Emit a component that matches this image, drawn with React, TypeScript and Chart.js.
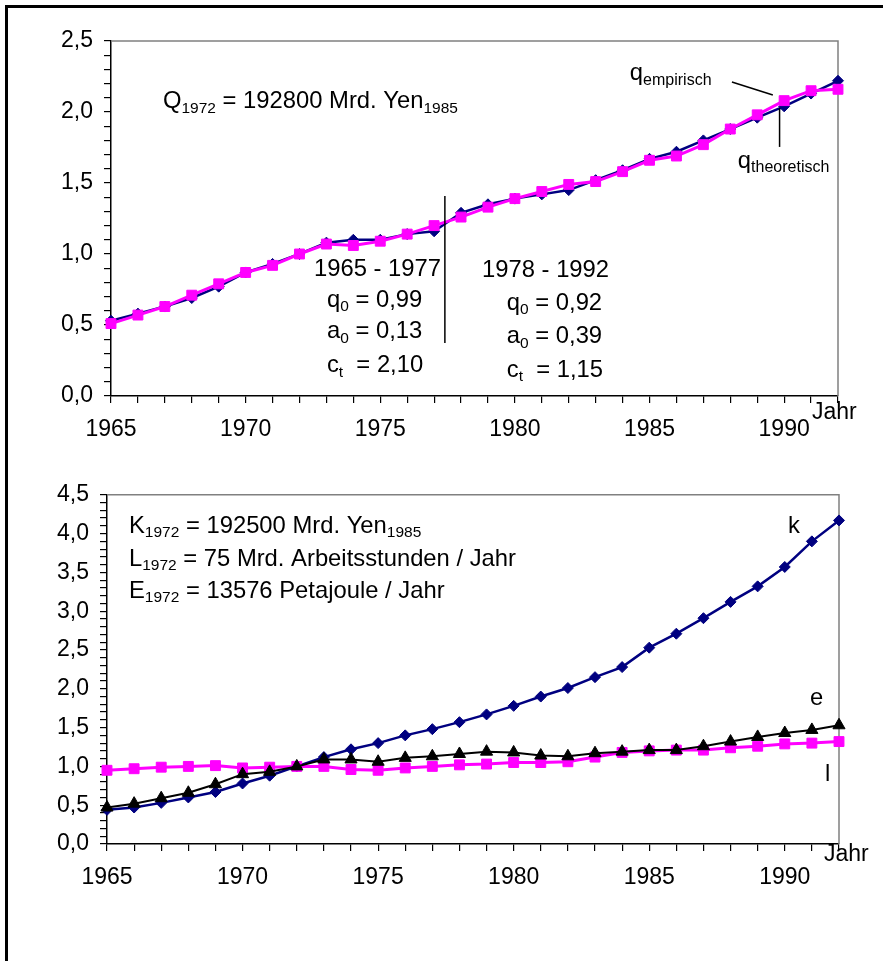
import React, { useEffect, useRef } from 'react';
import { Chart, registerables } from 'chart.js';

Chart.register(...registerables);

const FONT = '"Liberation Sans", Arial, sans-serif';

// ---------- data ----------
const years = [1965, 1966, 1967, 1968, 1969, 1970, 1971, 1972, 1973, 1974, 1975, 1976, 1977, 1978,
  1979, 1980, 1981, 1982, 1983, 1984, 1985, 1986, 1987, 1988, 1989, 1990, 1991, 1992];

const qEmpirisch = [0.51, 0.57, 0.63, 0.71, 0.79, 0.87, 0.92, 1.00, 1.07, 1.06, 1.09, 1.14, 1.20, 1.26,
  1.33, 1.39, 1.44, 1.49, 1.51, 1.58, 1.66, 1.69, 1.77, 1.88, 1.98, 2.08, 2.15, 2.16];
const qTheoretisch = [0.53, 0.58, 0.63, 0.69, 0.77, 0.87, 0.93, 1.00, 1.08, 1.10, 1.10, 1.14, 1.16, 1.29,
  1.35, 1.39, 1.42, 1.45, 1.52, 1.59, 1.67, 1.72, 1.80, 1.88, 1.96, 2.04, 2.13, 2.22];

const kValues = [0.44, 0.47, 0.53, 0.60, 0.67, 0.78, 0.88, 1.00, 1.12, 1.22, 1.30, 1.40, 1.48, 1.57,
  1.67, 1.78, 1.90, 2.01, 2.15, 2.28, 2.53, 2.71, 2.91, 3.12, 3.32, 3.57, 3.90, 4.17];
const eValues = [0.47, 0.52, 0.59, 0.66, 0.77, 0.90, 0.93, 1.00, 1.09, 1.09, 1.06, 1.11, 1.13, 1.16,
  1.19, 1.18, 1.14, 1.13, 1.17, 1.19, 1.21, 1.21, 1.26, 1.32, 1.38, 1.43, 1.47, 1.53];
const lValues = [0.95, 0.97, 0.99, 1.00, 1.01, 0.98, 0.99, 1.00, 1.00, 0.96, 0.95, 0.98, 1.00, 1.02,
  1.03, 1.05, 1.05, 1.06, 1.12, 1.18, 1.20, 1.21, 1.21, 1.24, 1.26, 1.29, 1.30, 1.32];

const xLabelYears = [1965, 1970, 1975, 1980, 1985, 1990];
const topYMax = 2.5;
const bottomYMax = 4.5;
const axisUnitLabel = 'Jahr';

// ---------- annotations ----------
type Part = [string, boolean];
interface Note { x: number; y: number; parts: Part[]; sub?: number; }
interface Seg { x1: number; y1: number; x2: number; y2: number; }

const topNotes: Note[] = [
  { x: 1966.93, y: 2.028, parts: [['Q', false], ['1972', true], [' = 192800 Mrd. Yen', false], ['1985', true]] },
  { x: 1972.54, y: 0.845, parts: [['1965 - 1977', false]] },
  { x: 1973.02, y: 0.627, parts: [['q', false], ['0', true], [' = 0,99', false]] },
  { x: 1973.02, y: 0.408, parts: [['a', false], ['0', true], [' = 0,13', false]] },
  { x: 1973.02, y: 0.169, parts: [['c', false], ['t', true], ['  = 2,10', false]] },
  { x: 1978.78, y: 0.838, parts: [['1978 - 1992', false]] },
  { x: 1979.70, y: 0.606, parts: [['q', false], ['0', true], [' = 0,92', false]] },
  { x: 1979.70, y: 0.373, parts: [['a', false], ['0', true], [' = 0,39', false]] },
  { x: 1979.70, y: 0.134, parts: [['c', false], ['t', true], ['  = 1,15', false]] },
  { x: 1984.27, y: 2.225, parts: [['q', false], ['empirisch', true]], sub: 16 },
  { x: 1988.28, y: 1.606, parts: [['q', false], ['theoretisch', true]], sub: 16 },
];
const topSegs: Seg[] = [
  { x1: 1977.40, y1: 1.408, x2: 1977.40, y2: 0.373 },
  { x1: 1988.06, y1: 2.211, x2: 1989.58, y2: 2.120 },
  { x1: 1989.83, y1: 2.028, x2: 1989.83, y2: 1.754 },
];
const bottomNotes: Note[] = [
  { x: 1965.81, y: 4.011, parts: [['K', false], ['1972', true], [' = 192500 Mrd. Yen', false], ['1985', true]] },
  { x: 1965.81, y: 3.587, parts: [['L', false], ['1972', true], [' = 75 Mrd. Arbeitsstunden / Jahr', false]] },
  { x: 1965.81, y: 3.176, parts: [['E', false], ['1972', true], [' = 13576 Petajoule / Jahr', false]] },
  { x: 1990.12, y: 4.011, parts: [['k', false]] },
  { x: 1990.93, y: 1.787, parts: [['e', false]] },
  { x: 1991.48, y: 0.810, parts: [['l', false]] },
];
const bottomSegs: Seg[] = [];

const MAIN_SIZE = 23.8;
const SUB_SIZE = 15.5;
const TICK_SIZE = 23;

function drawRich(ctx: CanvasRenderingContext2D, x: number, y: number, parts: Part[], subSize: number) {
  let cx = x;
  for (const [t, sub] of parts) {
    ctx.font = `${sub ? subSize : MAIN_SIZE}px ${FONT}`;
    ctx.fillText(t, cx, sub ? y + 4.5 : y);
    cx += ctx.measureText(t).width;
  }
}

function makePlugin(notes: Note[], segs: Seg[], jahrDx: number, jahrDy: number) {
  return {
    id: 'annot',
    beforeDatasetsDraw(chart: any) {
      const { ctx, chartArea } = chart;
      ctx.save();
      ctx.strokeStyle = '#808080';
      ctx.lineWidth = 1.5;
      ctx.beginPath();
      ctx.moveTo(chartArea.left, chartArea.top);
      ctx.lineTo(chartArea.right, chartArea.top);
      ctx.lineTo(chartArea.right, chartArea.bottom);
      ctx.stroke();
      ctx.restore();
    },
    afterDatasetsDraw(chart: any) {
      const { ctx, chartArea, scales } = chart;
      const xs = scales.x, ys = scales.y;
      ctx.save();
      ctx.strokeStyle = '#000';
      ctx.lineWidth = 1.5;
      for (const s of segs) {
        ctx.beginPath();
        ctx.moveTo(xs.getPixelForValue(s.x1), ys.getPixelForValue(s.y1));
        ctx.lineTo(xs.getPixelForValue(s.x2), ys.getPixelForValue(s.y2));
        ctx.stroke();
      }
      ctx.fillStyle = '#000';
      ctx.textBaseline = 'alphabetic';
      ctx.textAlign = 'left';
      for (const n of notes) {
        drawRich(ctx, xs.getPixelForValue(n.x), ys.getPixelForValue(n.y), n.parts, n.sub ?? SUB_SIZE);
      }
      ctx.font = `${TICK_SIZE}px ${FONT}`;
      ctx.fillText(axisUnitLabel, chartArea.right + jahrDx, chartArea.bottom + jahrDy);
      ctx.restore();
    },
  };
}

function axes(yMax: number, yWidth: number, xHeight: number) {
  return {
    x: {
      type: 'linear',
      min: years[0],
      max: years[years.length - 1],
      afterFit: (s: any) => { s.height = xHeight; },
      border: { display: true, color: '#000', width: 1.5 },
      grid: { display: true, drawOnChartArea: false, drawTicks: true, tickLength: 7, color: '#000', lineWidth: 1.2 },
      ticks: {
        stepSize: 1,
        autoSkip: false,
        maxRotation: 0,
        padding: 12.5,
        color: '#000',
        font: { family: FONT, size: TICK_SIZE },
        callback: (v: number) => (xLabelYears.includes(Math.round(v)) ? String(Math.round(v)) : ''),
      },
    },
    y: {
      type: 'linear',
      min: 0,
      max: yMax,
      afterFit: (s: any) => { s.width = yWidth; },
      border: { display: true, color: '#000', width: 1.5 },
      grid: { display: true, drawOnChartArea: false, drawTicks: true, tickLength: 7, color: '#000', lineWidth: 1.2 },
      ticks: {
        stepSize: 0.1,
        autoSkip: false,
        padding: 11,
        color: '#000',
        font: { family: FONT, size: TICK_SIZE },
        callback: (v: number) => {
          const r = Math.round(v * 10);
          return r % 5 === 0 ? (r / 10).toFixed(1).replace('.', ',') : '';
        },
      },
    },
  };
}

function series(values: number[], color: string, style: string, radius: number, width: number, order: number) {
  return {
    data: values.map((v, i) => ({ x: years[i], y: v })),
    borderColor: color,
    backgroundColor: color,
    borderWidth: width,
    pointStyle: style,
    pointRadius: radius,
    pointBorderWidth: 1,
    pointBackgroundColor: color,
    pointBorderColor: color,
    tension: 0,
    clip: false,
    order,
  };
}

const NAVY = '#000080';
const PINK = '#FF00FF';

export default function App() {
  const topRef = useRef<HTMLCanvasElement>(null);
  const botRef = useRef<HTMLCanvasElement>(null);

  useEffect(() => {
    const top = new Chart(topRef.current as HTMLCanvasElement, {
      type: 'line',
      data: {
        datasets: [
          series(qEmpirisch, PINK, 'rect', 7, 3, 0),
          series(qTheoretisch, NAVY, 'rectRot', 5.5, 2.5, 1),
        ] as any,
      },
      options: {
        responsive: false,
        animation: false,
        devicePixelRatio: 1,
        layout: { padding: { left: 0, top: 41, right: 45, bottom: 0 } },
        plugins: { legend: { display: false }, tooltip: { enabled: false } },
        scales: axes(topYMax, 111, 74) as any,
      },
      plugins: [makePlugin(topNotes, topSegs, -26, 23)],
    });
    const bot = new Chart(botRef.current as HTMLCanvasElement, {
      type: 'line',
      data: {
        datasets: [
          series(eValues, '#000000', 'triangle', 7, 2, 0),
          series(lValues, PINK, 'rect', 7, 3, 1),
          series(kValues, NAVY, 'rectRot', 5.5, 2.5, 2),
        ] as any,
      },
      options: {
        responsive: false,
        animation: false,
        devicePixelRatio: 1,
        layout: { padding: { left: 0, top: 24, right: 44, bottom: 0 } },
        plugins: { legend: { display: false }, tooltip: { enabled: false } },
        scales: axes(bottomYMax, 107, 117) as any,
      },
      plugins: [makePlugin(bottomNotes, bottomSegs, -15, 17)],
    });
    return () => { top.destroy(); bot.destroy(); };
  }, []);

  return (
    <div style={{ position: 'absolute', left: 0, top: 0, width: 883, height: 961, overflow: 'hidden', background: '#fff' }}>
      <div style={{ position: 'absolute', left: 5, top: 5, width: 2000, height: 2000, borderLeft: '3px solid #000', borderTop: '3px solid #000' }} />
      <canvas ref={topRef} width={883} height={470} style={{ position: 'absolute', left: 0, top: 0, width: 883, height: 470 }} />
      <canvas ref={botRef} width={883} height={491} style={{ position: 'absolute', left: 0, top: 470, width: 883, height: 491 }} />
    </div>
  );
}
